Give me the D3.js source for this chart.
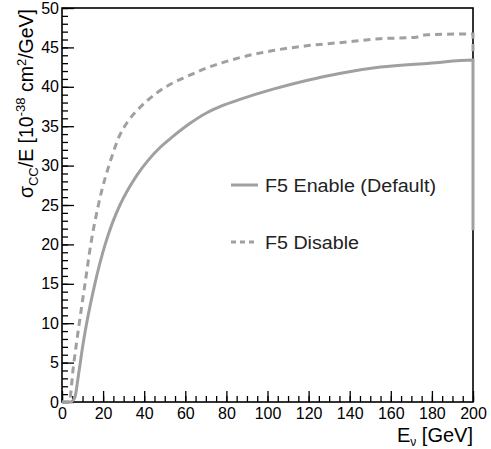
<!DOCTYPE html>
<html>
<head>
<meta charset="utf-8">
<script src="https://cdn.jsdelivr.net/npm/d3@7"></script>
<style>
  body { margin: 0; background: #fff; }
  svg { display: block; font-family: 'Liberation Sans', Arial, sans-serif; }
</style>
</head>
<body>
<div id="chart"></div>
<script>
// Neutrino CC cross section / E
const energyEnable = [0, 4, 5, 6.3, 8, 10.4, 12, 16, 21, 24.5, 28.2, 32, 36.5, 42, 47.7, 54, 62, 70.5, 78, 86.6, 102.7, 119, 135, 155, 179, 200, 200];
const xsecEnable   = [0, 0, 0.1, 0.6, 3.4, 7.6, 10, 15, 20, 22.7, 25, 26.9, 28.8, 30.7, 32.3, 33.7, 35.3, 36.7, 37.6, 38.4, 39.7, 40.8, 41.7, 42.5, 43.0, 43.4, 21.8];

const energyDisable = [0, 3.5, 5.5, 8.4, 11.2, 14, 17.7, 24.2, 28, 31.5, 34.7, 38, 46, 54, 59, 70.5, 86.6, 102.7, 119, 135, 155, 172.5, 175, 177.6, 198.5, 200, 200];
const xsecDisable   = [0, 0, 4.4, 10, 15, 20, 25, 31.1, 33.8, 35.4, 36.5, 37.4, 39.2, 40.5, 41.1, 42.4, 43.7, 44.6, 45.2, 45.6, 46.1, 46.3, 46.5, 46.6, 46.7, 46.7, 44.2];

const xMajorTicks = d3.range(0, 201, 20);
const xMinorTicks = d3.range(0, 201, 5);
const yMajorTicks = d3.range(0, 51, 5);
const yMinorTicks = d3.range(0, 51, 1);

const legendLabels = ['F5 Enable (Default)', 'F5 Disable'];
const legendWidths = [171, 94];

const width = 491, height = 449;
const margin = { left: 62, top: 8, right: 18, bottom: 47 };
const lineColor = '#a0a0a0';

const svg = d3.select('#chart').append('svg')
  .attr('width', width)
  .attr('height', height);

const x = d3.scaleLinear().domain([0, 200]).range([margin.left, width - margin.right]);
const y = d3.scaleLinear().domain([0, 50]).range([height - margin.bottom, margin.top]);

// axes (ticks point inward, ROOT style)
const x0 = y(0);

svg.append('g')
  .attr('transform', `translate(0,${x0})`)
  .call(d3.axisBottom(x).tickValues(xMinorTicks).tickSize(-6).tickFormat(''))
  .call(g => g.select('.domain').remove())
  .selectAll('line').attr('stroke', '#000').attr('stroke-width', 1.3);

const xAxis = svg.append('g')
  .attr('transform', `translate(0,${x0})`)
  .call(d3.axisBottom(x).tickValues(xMajorTicks).tickSize(-11).tickPadding(5));
xAxis.select('.domain').remove();
xAxis.selectAll('line').attr('stroke', '#000').attr('stroke-width', 1.3);
xAxis.selectAll('text')
  .attr('y', 16.5).attr('dy', null)
  .attr('fill', '#000')
  .style('font-size', '16px');

svg.append('g')
  .attr('transform', `translate(${margin.left},0)`)
  .call(d3.axisLeft(y).tickValues(yMinorTicks).tickSize(-6).tickFormat(''))
  .call(g => g.select('.domain').remove())
  .selectAll('line').attr('stroke', '#000').attr('stroke-width', 1.3);

const yAxis = svg.append('g')
  .attr('transform', `translate(${margin.left},0)`)
  .call(d3.axisLeft(y).tickValues(yMajorTicks).tickSize(-12).tickPadding(3));
yAxis.select('.domain').remove();
yAxis.selectAll('line').attr('stroke', '#000').attr('stroke-width', 1.3);
yAxis.selectAll('text')
  .attr('fill', '#000')
  .style('font-size', '16px');

// frame
svg.append('rect')
  .attr('x', x(0))
  .attr('y', y(50))
  .attr('width', x(200) - x(0))
  .attr('height', y(0) - y(50))
  .attr('fill', 'none')
  .attr('stroke', '#000')
  .attr('stroke-width', 1.6);

// curves (drawn over the frame, like the original)
const line = d3.line()
  .x(d => x(d[0]))
  .y(d => y(d[1]))
  .curve(d3.curveMonotoneX);

svg.append('path')
  .datum(d3.zip(energyEnable, xsecEnable))
  .attr('d', line)
  .attr('fill', 'none')
  .attr('stroke', lineColor)
  .attr('stroke-width', 3);

svg.append('path')
  .datum(d3.zip(energyDisable, xsecDisable))
  .attr('d', line)
  .attr('fill', 'none')
  .attr('stroke', lineColor)
  .attr('stroke-width', 3)
  .attr('stroke-dasharray', '7,5');

// axis titles
const xTitle = svg.append('text')
  .attr('x', x(200))
  .attr('y', 442)
  .attr('text-anchor', 'end')
  .style('font-size', '20px')
  .attr('fill', '#000');
xTitle.append('tspan').text('E');
xTitle.append('tspan').attr('dy', 4).style('font-size', '12px').text('ν');
xTitle.append('tspan').attr('dy', -4).text('  [GeV]');

const yTitle = svg.append('text')
  .attr('transform', `translate(33,${y(50) + 1}) rotate(-90)`)
  .attr('text-anchor', 'end')
  .style('font-size', '19.5px')
  .attr('fill', '#000');
yTitle.append('tspan').text('σ');
yTitle.append('tspan').attr('dy', 5).style('font-size', '13px').text('CC');
yTitle.append('tspan').attr('dy', -5).text('/E [10');
yTitle.append('tspan').attr('dy', -8).style('font-size', '13px').text('-38');
yTitle.append('tspan').attr('dy', 8).text(' cm');
yTitle.append('tspan').attr('dy', -7).style('font-size', '13px').text('2');
yTitle.append('tspan').attr('dy', 7).text('/GeV]');

// legend
const legend = svg.append('g');
legendLabels.forEach((label, i) => {
  const ly = 185 + i * 57;
  legend.append('line')
    .attr('x1', 231).attr('x2', 258)
    .attr('y1', ly).attr('y2', ly)
    .attr('stroke', lineColor)
    .attr('stroke-width', 3)
    .attr('stroke-dasharray', i === 1 ? '5,4' : null);
  legend.append('text')
    .attr('x', 265)
    .attr('y', ly + 6.5)
    .style('font-size', '17.5px')
    .attr('textLength', legendWidths[i])
    .attr('lengthAdjust', 'spacingAndGlyphs')
    .attr('fill', '#222')
    .text(label);
});
</script>
</body>
</html>
